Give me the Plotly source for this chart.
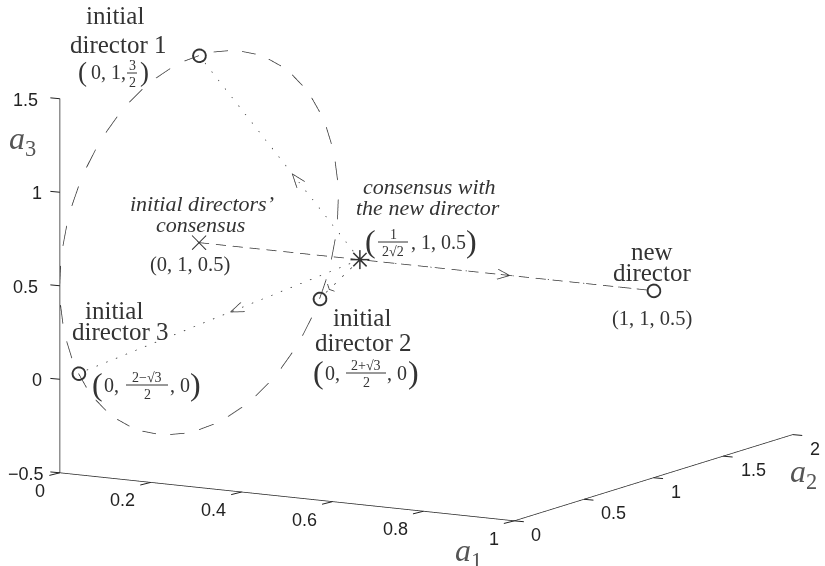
import numpy as np
import plotly.graph_objects as go

# dashes of the circle of director positions in the plane a1 = 0, two points per dash
circle_a2 = [1.995, 1.978, 1.951, 1.914, 1.866, 1.809, 1.743, 1.669, 1.588, 1.500,
             1.407, 1.309, 1.208, 1.105, 1.000, 0.895, 0.792, 0.691, 0.593, 0.500,
             0.412, 0.331, 0.257, 0.191, 0.134, 0.086, 0.049, 0.022, 0.005, 0.000,
             0.005, 0.022, 0.049, 0.086, 0.134, 0.191, 0.257, 0.331, 0.412, 0.500,
             0.593, 0.691, 0.792, 0.895, 1.000, 1.105, 1.208, 1.309, 1.407, 1.500,
             1.588, 1.669, 1.743, 1.809, 1.866, 1.914, 1.951, 1.978, 1.995, 2.000]
circle_a3 = [0.605, 0.708, 0.809, 0.907, 1.000, 1.088, 1.169, 1.243, 1.309, 1.366,
             1.414, 1.451, 1.478, 1.495, 1.500, 1.495, 1.478, 1.451, 1.414, 1.366,
             1.309, 1.243, 1.169, 1.088, 1.000, 0.907, 0.809, 0.708, 0.605, 0.500,
             0.395, 0.292, 0.191, 0.093, 0.000, -0.088, -0.169, -0.243, -0.309, -0.366,
             -0.414, -0.451, -0.478, -0.495, -0.500, -0.495, -0.478, -0.451, -0.414, -0.366,
             -0.309, -0.243, -0.169, -0.088, 0.000, 0.093, 0.191, 0.292, 0.395, 0.500]

director_1 = [0, 1, 1.5]
director_2 = [0, 1.866, 0]
director_3 = [0, 0.134, 0]
new_director = [1, 1, 0.5]
initial_consensus = [0, 1, 0.5]
new_consensus = [0.354, 1, 0.5]

a1_ticks = [0, 0.2, 0.4, 0.6, 0.8, 1]
a2_ticks = [0, 0.5, 1, 1.5, 2]
a3_ticks = [-0.5, 0, 0.5, 1, 1.5]
a3_labels = ["\u22120.5", "0", "0.5", "1", "1.5"]

W, H = 825, 566
INK = "#333333"
AXIS_INK = "#222222"
SERIF = "Liberation Serif"

# view of the box, worked out from the axis directions in the picture
eye_dir = np.array([0.496, -0.849, 0.181])
px_per_unit = np.array([526.0, 278.0, 189.5])
box = dict(x=1.86, y=1.95, z=1.344)
dist = 2.0
center = np.array([-0.036, -0.035, -0.0565])


def arrow(start, end, frac, back=14, wing=5):
    # open arrow head somewhere along start -> end, built in screen sized units
    p, q = np.array(start) * px_per_unit, np.array(end) * px_per_unit
    d = (q - p) / np.linalg.norm(q - p)
    side = np.cross(d, eye_dir)
    side /= np.linalg.norm(side)
    tip = p + frac * (q - p)
    left = (tip - back * d + wing * side) / px_per_unit
    right = (tip - back * d - wing * side) / px_per_unit
    tip = tip / px_per_unit
    return [left, tip, right, [None] * 3]


def spokes(point, angles, radius):
    # x and asterisk marks, the gl symbols for these are far too heavy.
    # spokes stay in the plane a1 = const so nothing falls outside the a1 range
    out = []
    for ang in np.radians(angles):
        right, up = radius * np.cos(ang), radius * np.sin(ang)
        da2 = right / 140.5
        da3 = (up - 43.5 * da2) / 186.5
        v = np.array([0, da2, da3])
        out += [np.array(point) - v, np.array(point) + v, [None] * 3]
    return out


def broken(start, end, periods, duty):
    # line.dash in scatter3d only has fixed lengths, so cut the line by hand
    p, q = np.array(start, dtype=float), np.array(end, dtype=float)
    out = []
    for i in range(periods):
        out += [p + (q - p) * i / periods, p + (q - p) * (i + duty) / periods, [None] * 3]
    return out


def line3d(pts, width=1.5):
    pts = np.array(pts, dtype=float)
    return go.Scatter3d(x=pts[:, 0], y=pts[:, 1], z=pts[:, 2], mode="lines",
                        line=dict(color=INK, width=width), hoverinfo="skip", showlegend=False)


fig = go.Figure()

circle_pts = []
for i in range(0, len(circle_a2), 2):
    circle_pts += [[0, circle_a2[i], circle_a3[i]], [0, circle_a2[i + 1], circle_a3[i + 1]], [None] * 3]
fig.add_trace(line3d(circle_pts))

fig.add_trace(line3d(broken(initial_consensus, new_director, 27, 0.6)))
fig.add_trace(line3d(broken(new_consensus, director_1, 24, 0.12)))
fig.add_trace(line3d(broken(new_consensus, director_2, 5, 0.2)))
fig.add_trace(line3d(broken(new_consensus, director_3, 29, 0.15)))
fig.add_trace(line3d(broken(new_consensus, new_director, 25, 0.1)))

heads = arrow(new_consensus, director_1, 0.42) + arrow(new_consensus, director_3, 0.46) \
    + arrow(new_consensus, director_2, 0.76) + arrow(new_consensus, new_director, 0.51)
fig.add_trace(line3d(heads))

marks = np.array([director_1, director_2, director_3, new_director], dtype=float)
fig.add_trace(go.Scatter3d(x=marks[:, 0], y=marks[:, 1], z=marks[:, 2], mode="markers", hoverinfo="skip", showlegend=False,
                           marker=dict(symbol="circle-open", size=8, color=INK, line=dict(color=INK, width=1))))
fig.add_trace(line3d(spokes(initial_consensus, [45, 135], 10), width=2))
fig.add_trace(line3d(spokes(new_consensus, [0, 45, 90, 135], 9.5), width=3))


def axis(vals):
    return dict(range=[vals[0], vals[-1]], tickvals=vals, showticklabels=False, title="", ticks="",
                showgrid=False, zeroline=False, showbackground=False, showspikes=False, showline=True,
                linecolor=AXIS_INK, linewidth=1.5)


annotations = []
shapes = []
scene_labels = []


def tick(x, y, z, text, dx, dy, tail_x, tail_y):
    # gl ticks point the wrong way and its labels sit too close, so anchor both to the data with pixel offsets
    scene_labels.append(dict(x=x, y=y, z=z, text=text, showarrow=False, xanchor="center", yanchor="middle",
                             xshift=dx, yshift=dy, font=dict(family="Liberation Sans", size=18, color=AXIS_INK)))
    scene_labels.append(dict(x=x, y=y, z=z, text=" ", showarrow=True, arrowhead=0, arrowwidth=1, arrowcolor=AXIS_INK,
                             standoff=0, ax=tail_x, ay=tail_y, font=dict(size=1)))


for v in a1_ticks:
    text = str(v)
    tick(v, 0, -0.5, text, -20 if len(text) == 1 else -28, -18, -12, 3)
for v in a2_ticks:
    text = str(v)
    tick(1, v, -0.5, text, 22 if len(text) == 1 else 30, -14, 11, 1)
for v, text in zip(a3_ticks, a3_labels):
    tick(0, 0, v, text, -23 if len(text) == 1 else -34, -1, -11, -1)


def label(x, y, text, size=20, color=INK):
    annotations.append(dict(x=x / W, y=1 - y / H, xref="paper", yref="paper", text=text, showarrow=False,
                            xanchor="center", yanchor="middle", font=dict(family=SERIF, size=size, color=color)))


def fraction(x, y, top, bottom, half):
    # stacked fraction: numerator, rule, denominator
    label(x, y - 8, top, 14)
    label(x, y + 9, bottom, 14)
    shapes.append(dict(type="line", xref="paper", yref="paper", x0=(x - half) / W, x1=(x + half) / W,
                       y0=1 - y / H, y1=1 - y / H, line=dict(color=INK, width=1)))


label(115, 16, "initial", 25)
label(118, 44, "director 1", 25)
label(82, 72, "(", 27)
label(108, 72, "0, 1,", 20)
fraction(132, 73, "3", "2", 5)
label(144, 72, ")", 27)

label(202, 203, "<i>initial directors\u2019</i>", 22)
label(200, 225, "<i>consensus</i>", 22)
label(190, 264, "(0, 1, 0.5)", 20.5)

label(429, 186, "<i>consensus with</i>", 22)
label(428, 208, "<i>the new director</i>", 22)
label(370, 241, "(", 32)
fraction(393, 242, "1", "2\u221a2", 15)
label(438, 242, ", 1, 0.5", 20)
label(471, 241, ")", 32)

label(362, 317, "initial", 25)
label(363, 342, "director 2", 25)
label(318, 372, "(", 32)
label(332, 373, "0,", 20)
fraction(366, 373, "2+\u221a3", "2", 20)
label(397, 373, ", 0", 20)
label(413, 372, ")", 32)

label(114, 310, "initial", 25)
label(120, 332, "director 3", 25)
label(97, 384, "(", 32)
label(111, 385, "0,", 20)
fraction(147, 385, "2\u2212\u221a3", "2", 21)
label(180, 385, ", 0", 20)
label(195, 384, ")", 32)

label(652, 251, "new", 25)
label(652, 272, "director", 25)
label(652, 318, "(1, 1, 0.5)", 20.5)

label(468, 552, "<i>a</i><sub>1</sub>", 32, "#555555")
label(803, 473, "<i>a</i><sub>2</sub>", 32, "#555555")
label(22, 140, "<i>a</i><sub>3</sub>", 32, "#555555")

eye = center + dist * eye_dir

fig.update_layout(
    width=W, height=H,
    margin=dict(l=0, r=0, t=0, b=0),
    paper_bgcolor="white",
    annotations=annotations,
    shapes=shapes,
    scene=dict(
        domain=dict(x=[0, 1], y=[0, 1]),
        xaxis=axis(a1_ticks), yaxis=axis(a2_ticks), zaxis=axis(a3_ticks),
        aspectmode="manual", aspectratio=box,
        annotations=scene_labels,
        camera=dict(projection=dict(type="orthographic"),
                    up=dict(x=0, y=0, z=1),
                    center=dict(x=center[0], y=center[1], z=center[2]),
                    eye=dict(x=eye[0], y=eye[1], z=eye[2])),
    ),
)

# page margin would push the fixed size plot 8px off
fig.write_html("out.html", config={"displayModeBar": False},
               post_script="document.body.style.margin='0'; document.documentElement.style.overflow='hidden';")
